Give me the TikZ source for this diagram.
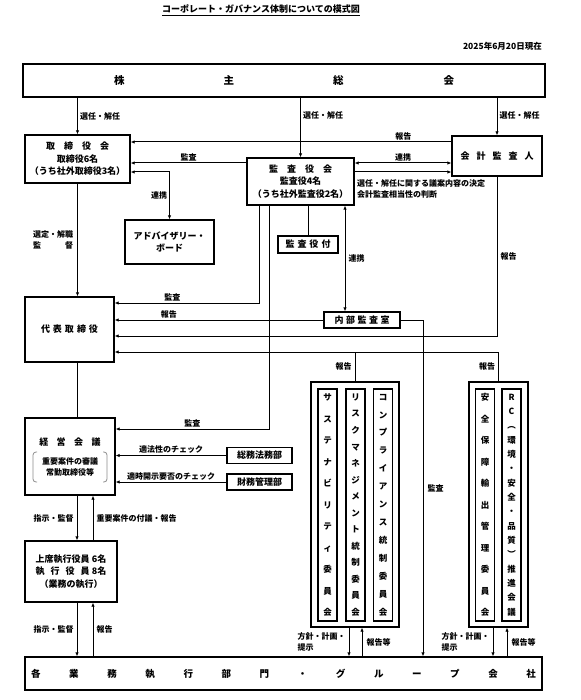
\documentclass[tikz,border=0pt]{standalone}
\usepackage{fontspec}
\setmainfont{Noto Sans CJK JP}
\usetikzlibrary{arrows.meta, positioning, calc}
\definecolor{bracketgray}{RGB}{140,140,140}
\newcommand{\bsp}{\hspace{28.6pt}}

\begin{document}
\begin{tikzpicture}[x=1pt, y=-1pt,
  box/.style={draw, line width=1.3pt, inner sep=0pt, align=center,
    font=\bfseries\fontsize{9}{12.5}\selectfont},
  vbox/.style={draw, line width=1.3pt, inner sep=0pt, align=center,
    minimum width=19pt, minimum height=232pt},
  lbl/.style={inner sep=0pt, font=\bfseries\fontsize{8}{11}\selectfont},
  conn/.style={line width=1pt},
  >={Latex[length=4pt,width=3.4pt]}]
  \useasboundingbox (0,0) rectangle (580,700);

  % heading
  \node[inner sep=1pt, font=\bfseries\fontsize{9}{11}\selectfont] (title) at (261,10)
    {\underline{コーポレート・ガバナンス体制についての模式図}};
  \node[lbl, anchor=east, font=\bfseries\fontsize{8.5}{11}\selectfont] (date) at (542,46)
    {2025年6月20日現在};

  % boxes
  \node[box, minimum width=522pt, minimum height=33pt, font=\bfseries\fontsize{10.5}{12}\selectfont]
    (sokai) at (284,80.5) {株\hspace{99pt}主\hspace{99pt}総\hspace{100pt}会};
  \node[box, minimum width=105pt, minimum height=48pt] (tori) at (77.5,159)
    {取　締　役　会\\取締役6名\\（うち社外取締役3名）};
  \node[box, minimum width=107pt, minimum height=47pt] (kansa) at (300.5,181.5)
    {監　査　役　会\\監査役4名\\（うち社外監査役2名）};
  \node[box, minimum width=90pt, minimum height=40pt] (kaikei) at (497,156)
    {会\hspace{7pt}計\hspace{7pt}監\hspace{7pt}査\hspace{7pt}人};
  \node[box, minimum width=89pt, minimum height=44pt] (advisory) at (169.5,242)
    {アドバイザリー・\\ボード};
  \node[box, minimum width=60pt, minimum height=17pt] (fuzoku) at (308,244.5)
    {監\hspace{3pt}査\hspace{3pt}役\hspace{3pt}付};
  \node[box, minimum width=89pt, minimum height=65pt] (daihyo) at (69.5,329.5)
    {代\hspace{3pt}表\hspace{3pt}取\hspace{3pt}締\hspace{3pt}役};
  \node[box, minimum width=76pt, minimum height=16pt] (naibu) at (362,320)
    {内\hspace{2.5pt}部\hspace{2.5pt}監\hspace{2.5pt}査\hspace{2.5pt}室};
  \node[box, minimum width=90pt, minimum height=77pt] (keiei) at (70,456.5) {};
  \node[inner sep=0pt, font=\bfseries\fontsize{9}{12}\selectfont] (keiei-t) at (70,442)
    {経\hspace{8.5pt}営\hspace{8.5pt}会\hspace{8.5pt}議};
  \node[inner sep=0pt, align=center, font=\bfseries\fontsize{8}{11.5}\selectfont] (keiei-s) at (70,467)
    {重要案件の審議\\常勤取締役等};
  \draw[bracketgray, line width=0.8pt, rounded corners=3pt]
    (37,452) -- (33,452) -- (33,482) -- (37,482);
  \draw[bracketgray, line width=0.8pt, rounded corners=3pt]
    (103,452) -- (107,452) -- (107,482) -- (103,482);
  \node[box, minimum width=65pt, minimum height=16pt] (somu) at (259.5,455.5) {総務法務部};
  \node[box, minimum width=65pt, minimum height=16pt] (zaimu) at (259.5,482) {財務管理部};
  \node[box, minimum width=92pt, minimum height=61pt] (shikko) at (71,571.5)
    {上席執行役員 6名\\\makebox[6em][s]{執\hfill 行\hfill 役\hfill 員} 8名\\（業務の執行）};
  \node[box, minimum width=517pt, minimum height=33pt, font=\bfseries\fontsize{9.5}{12}\selectfont]
    (bumon) at (283.5,673.5)
    {各\bsp 業\bsp 務\bsp 執\bsp 行\bsp 部\bsp 門\bsp ・\bsp グ\bsp ル\bsp ー\bsp プ\bsp 会\bsp 社};

  % committees
  \node[box, minimum width=88pt, minimum height=245pt] (grpL) at (355,504.5) {};
  \node[box, minimum width=59pt, minimum height=245pt] (grpR) at (498.5,504.5) {};
  \node[vbox, font=\bfseries\fontsize{8.5}{21.5}\selectfont] (sus) at (327.5,505)
    {サ\\ス\\テ\\ナ\\ビ\\リ\\テ\\ィ\\委\\員\\会};
  \node[vbox, font=\bfseries\fontsize{8.5}{16.54}\selectfont] (risk) at (355.5,505)
    {リ\\ス\\ク\\マ\\ネ\\ジ\\メ\\ン\\ト\\統\\制\\委\\員\\会};
  \node[vbox, font=\bfseries\fontsize{8.5}{17.92}\selectfont] (comp) at (383,505)
    {コ\\ン\\プ\\ラ\\イ\\ア\\ン\\ス\\統\\制\\委\\員\\会};
  \node[vbox, font=\bfseries\fontsize{8.5}{21.5}\selectfont] (anzen) at (485,505)
    {安\\全\\保\\障\\輸\\出\\管\\理\\委\\員\\会};
  \node[vbox, font=\bfseries\fontsize{8.5}{14.33}\selectfont] (rc) at (511.5,505)
    {R\\C\\︵\\環\\境\\・\\安\\全\\・\\品\\質\\︶\\推\\進\\会\\議};

  % shareholders
  \draw[conn,->] (tori.north |- sokai.south) -- (tori.north)
    node[lbl, midway, right=2pt] {選任・解任};
  \draw[conn,->] (kansa.north |- sokai.south) -- (kansa.north)
    node[lbl, pos=0.3, right=2pt] {選任・解任};
  \draw[conn,->] (kaikei.north |- sokai.south) -- (kaikei.north)
    node[lbl, pos=0.46, right=2pt] {選任・解任};

  % board and auditors
  \draw[conn,->] (kaikei.west |- 0,142) -- (tori.east |- 0,142)
    node[lbl, pos=0.15, above=1.5pt] {報告};
  \draw[conn,->] (kansa.west |- 0,163) -- (tori.east |- 0,163)
    node[lbl, midway, above=1.5pt] {監査};
  \draw[conn,<->] (kansa.east |- 0,163) -- (kaikei.west |- 0,163)
    node[lbl, midway, above=1.5pt] {連携};
  \draw[conn,->] (kansa.east |- 0,172) -- (kaikei.west |- 0,172);
  \node[lbl, anchor=north west, align=left] (gian) at (357,179)
    {選任・解任に関する議案内容の決定\\会計監査相当性の判断};
  \draw[conn,<->] (tori.east |- 0,172) -| (advisory.north)
    node[lbl, pos=0.75, left=2pt] {連携};
  \draw[conn,->] (tori.south) -- (tori.south |- daihyo.north)
    node[lbl, midway, left=4pt, align=left] {選定・解職\\\makebox[5em][s]{監\hfill 督}};
  \draw[conn] (kansa.south -| fuzoku.north) -- (fuzoku.north);

  % to the president
  \draw[conn,->] (kansa.south -| 259,0) |- (daihyo.east |- 0,303)
    node[lbl, pos=0.8, above=1.5pt] {監査};
  \draw[conn,->] (naibu.west) -- (daihyo.east |- naibu.west)
    node[lbl, pos=0.74, above=1.5pt] {報告};
  \draw[conn,->] (kaikei.south) |- (daihyo.east |- 0,336)
    node[lbl, pos=0.25, right=3pt] {報告};
  \draw[conn,->] (grpR.north) |- (daihyo.east |- 0,352)
    node[lbl, pos=0.25, left=3pt] {報告};
  \draw[conn] (grpL.north) -- (grpL.north |- 0,352)
    node[lbl, midway, left=3pt] {報告};
  \draw[conn,<->] (kansa.south -| 345,0) -- (naibu.north -| 345,0)
    node[lbl, midway, right=3pt] {連携};
  \draw[conn,->] (naibu.east) -| (bumon.north -| 423,0)
    node[lbl, pos=0.75, right=4pt] {監査};

  % management meeting
  \draw[conn,->] (kansa.south -| 269,0) |- (keiei.east |- 0,429)
    node[lbl, pos=0.75, above=1.5pt] {監査};
  \draw[conn,->] (somu.west) -- (keiei.east |- somu.west)
    node[lbl, midway, above=1.5pt] {適法性のチェック};
  \draw[conn,->] (zaimu.west) -- (keiei.east |- zaimu.west)
    node[lbl, midway, above=1.5pt] {適時開示要否のチェック};
  \draw[conn] (daihyo.south -| 77,0) -- (keiei.north -| 77,0);

  % execution
  \draw[conn,->] (keiei.south -| 77,0) -- (shikko.north -| 77,0)
    node[lbl, midway, left=3pt] {指示・監督};
  \draw[conn,->] (shikko.north -| 93,0) -- (keiei.south -| 93,0)
    node[lbl, midway, right=3pt] {重要案件の付議・報告};
  \draw[conn,->] (shikko.south -| 77,0) -- (bumon.north -| 77,0)
    node[lbl, midway, left=3pt] {指示・監督};
  \draw[conn,->] (bumon.north -| 93,0) -- (shikko.south -| 93,0)
    node[lbl, midway, right=3pt] {報告};

  % committees to divisions
  \draw[conn,->] (grpL.south -| 349,0) -- (bumon.north -| 349,0)
    node[lbl, midway, left=3pt, align=left] {方針・計画・\\提示};
  \draw[conn,->] (bumon.north -| 362,0) -- (grpL.south -| 362,0)
    node[lbl, midway, right=4pt] {報告等};
  \draw[conn,->] (grpR.south -| 493,0) -- (bumon.north -| 493,0)
    node[lbl, midway, left=3pt, align=left] {方針・計画・\\提示};
  \draw[conn,->] (bumon.north -| 507,0) -- (grpR.south -| 507,0)
    node[lbl, midway, right=4pt] {報告等};
\end{tikzpicture}
\end{document}
